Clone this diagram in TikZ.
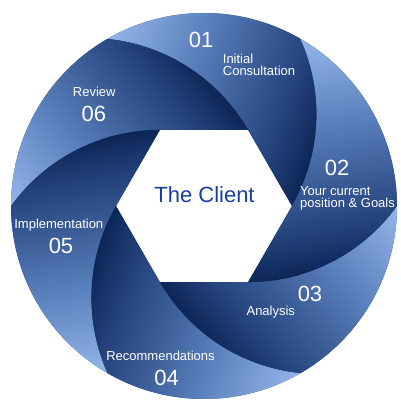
\documentclass[tikz,border=0pt]{standalone}
\usepackage{fontspec}
\setmainfont{Liberation Sans}
\definecolor{bl1}{HTML}{96B8EA}
\definecolor{bl2}{HTML}{5A80BD}
\definecolor{bl3}{HTML}{3A5C96}
\definecolor{bl4}{HTML}{26457F}
\definecolor{bl5}{HTML}{0B2455}
\definecolor{clientblue}{HTML}{1B3FA0}
\pgfdeclarehorizontalshading{blade}{100bp}{color(0bp)=(bl1); color(31bp)=(bl1); color(42.5bp)=(bl2); color(50bp)=(bl3); color(55bp)=(bl4); color(61bp)=(bl5); color(100bp)=(bl5)}
\tikzset{
  lab/.style={text=white, font=\fontsize{13}{12.5}\selectfont, inner sep=0pt},
  num/.style={text=white, font=\fontsize{22}{22}\selectfont, inner sep=0pt},
}
\begin{document}
\begin{tikzpicture}[x=1pt,y=1pt]
\useasboundingbox (-204,-195) rectangle (196,206);
% underlay
\fill[bl4, even odd rule] (0,0) circle[radius=193]
  (0:88) -- (60:88) -- (120:88) -- (180:88) -- (240:88) -- (300:88) -- cycle;
% blades
\foreach \t in {0,60,...,300}{
  \begin{scope}
    \clip (\t:88) -- (\t+60:88)
      arc[start angle=\t+30, end angle=\t+84.18, radius=183.76]
      arc[start angle=\t+120, end angle=\t+60, radius=193]
      arc[start angle=\t+24.18, end angle=\t-30, radius=183.76] -- cycle;
    \shade[shading=blade, shading angle=\t-20] (-200,-200) rectangle (200,200);
  \end{scope}
}
% labels
\node[num, anchor=base] (n01) at (-2.8,158) {01};
\node[lab, anchor=base west, align=left] (t01) at (18.7,130) {Initial\\Consultation};
\node[num, anchor=base] (n02) at (133.2,30) {02};
\node[lab, anchor=base west, align=left] (t02) at (96,-2) {Your current\\position \& Goals};
\node[num, anchor=base] (n03) at (106,-95.7) {03};
\node[lab, anchor=base] (t03) at (66.8,-109) {Analysis};
\node[num, anchor=base] (n04) at (-37.3,-179.6) {04};
\node[lab, anchor=base] (t04) at (-43.5,-154.4) {Recommendations};
\node[num, anchor=base] (n05) at (-143,-48) {05};
\node[lab, anchor=base] (t05) at (-145.2,-23) {Implementation};
\node[num, anchor=base] (n06) at (-110.2,84.3) {06};
\node[lab, anchor=base] (t06) at (-109.8,109.3) {Review};
\node[text=clientblue, font=\fontsize{22}{22}\selectfont, inner sep=0pt, anchor=base] (client) at (0.5,3.3) {The Client};
\end{tikzpicture}
\end{document}
